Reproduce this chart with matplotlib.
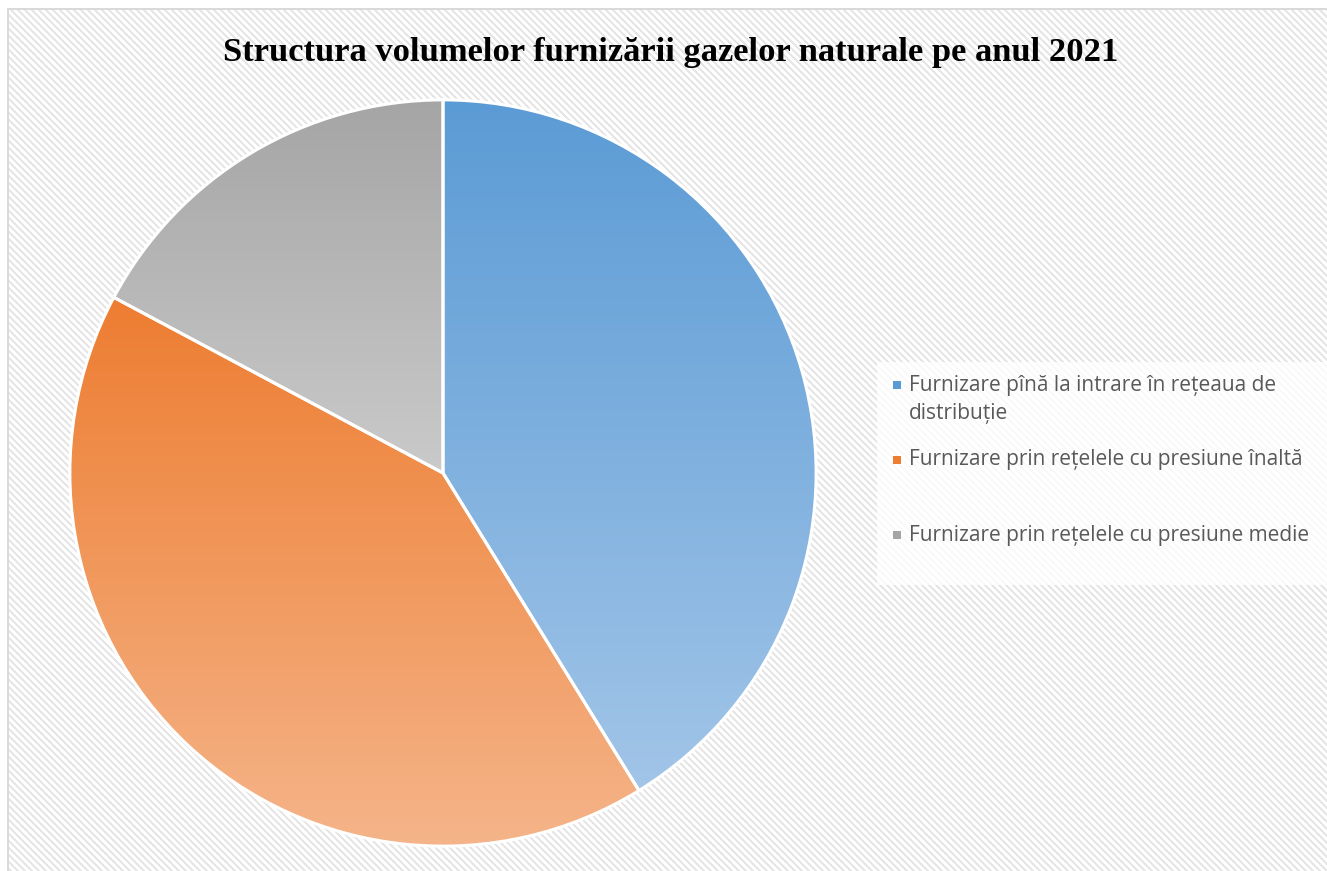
import numpy as np
import matplotlib
matplotlib.use("Agg")
import matplotlib.pyplot as plt
from matplotlib.colors import LinearSegmentedColormap
from matplotlib.patches import Rectangle

# shares (percent)
labels = ["Furnizare pînă la intrare în rețeaua de\ndistribuție",
          "Furnizare prin rețelele cu presiune înaltă",
          "Furnizare prin rețelele cu presiune medie"]
values = [41.2, 41.6, 17.2]
top_cols = ["#5B9BD5", "#ED7D31", "#A5A5A5"]
bot_cols = ["#A2C5E8", "#F5B489", "#CACACA"]
title = "Structura volumelor furnizării gazelor naturale pe anul 2021"

W, H = 1327, 871
fig = plt.figure(figsize=(W / 100, H / 100), dpi=100)
fig.patch.set_facecolor('white')

# diagonal stripe background texture of the chart area
yy, xx = np.mgrid[0:H, 0:W]
tex = np.where((xx - yy) % 7 < 3, 0.90, 1.0)
tex[:8, :] = 1.0
tex[:, :7] = 1.0
tex[8:10, 7:] = 0.85
tex[8:, 7:9] = 0.85
fig.figimage(tex, cmap='gray', vmin=0, vmax=1, origin='upper', zorder=-5)

ax = fig.add_axes([68 / W, 23 / H, 750 / W, 750 / H])
ax.patch.set_alpha(0)
wedges, _ = ax.pie(values, startangle=90, counterclock=False,
                   wedgeprops=dict(edgecolor='white', linewidth=2.2))
grad = np.linspace(0, 1, 256).reshape(-1, 1)
for w, c0, c1 in zip(wedges, top_cols, bot_cols):
    bb = w.get_path().get_extents(w.get_transform() - ax.transData)
    cmap = LinearSegmentedColormap.from_list('g', [c0, c1])
    im = ax.imshow(grad, cmap=cmap, aspect='auto', origin='upper',
                   extent=[bb.x0, bb.x1, bb.y0, bb.y1], zorder=1)
    im.set_clip_path(w)
    w.set_facecolor('none')
    w.set_zorder(2)
ax.set_xlim(-1.005, 1.005)
ax.set_ylim(-1.005, 1.005)
ax.axis('off')

fig.text(671 / W, 1 - 53 / H, title, ha='center', va='center',
         fontsize=24.8, fontweight='bold', family='Liberation Serif', color='black')

# legend
lg = Rectangle((877 / W, 1 - 585 / H), 450 / W, 223 / H,
               transform=fig.transFigure, facecolor='white', alpha=0.8, lw=0, zorder=2)
fig.add_artist(lg)
ys = [385, 460, 535]
for lab, c0, y in zip(labels, top_cols, ys):
    fig.add_artist(Rectangle((893 / W, 1 - (y + 4) / H), 8 / W, 8 / H,
                             transform=fig.transFigure, facecolor=c0, lw=0, zorder=3))
    for i, line in enumerate(lab.split('\n')):
        fig.text(909 / W, 1 - (y + 28 * i) / H, line, ha='left', va='center',
                 fontsize=15, family='Open Sans', color='#595959', zorder=3)

fig.savefig('out.png', dpi=100)
